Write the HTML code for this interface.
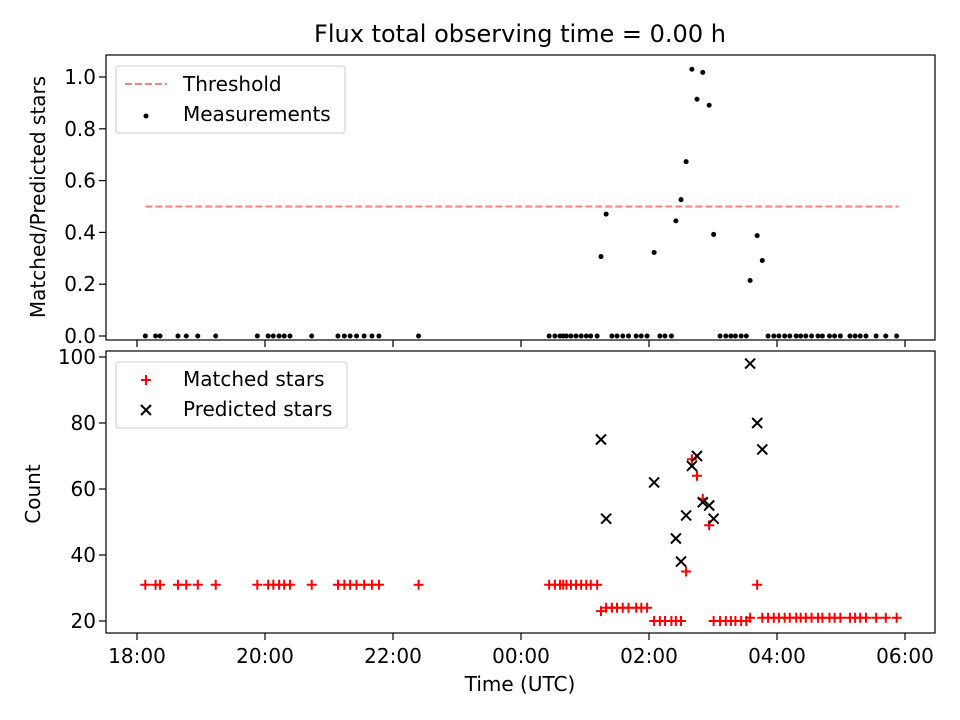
<!DOCTYPE html>
<html><head><meta charset="utf-8"><style>
html,body{margin:0;padding:0;background:#fff;}
svg{display:block;font-family:"DejaVu Sans","Liberation Sans",sans-serif;}
</style></head><body>
<svg id="chart" width="960" height="720" viewBox="0 0 960 720"></svg>
<script>
// hours since 18:00 UTC
const times = [0.13,0.29,0.36,0.64,0.77,0.95,1.23,1.88,2.05,2.13,2.22,2.30,2.39,2.73,3.14,3.24,3.33,3.43,3.55,3.67,3.78,4.40,
6.44,6.53,6.61,6.66,6.71,6.78,6.86,6.94,7.02,7.09,7.19,
7.25,7.33,7.42,7.50,7.59,7.68,7.80,7.88,7.97,
8.08,8.17,8.25,8.35,8.42,8.50,8.58,8.67,8.75,8.84,8.94,9.01,
9.11,9.20,9.28,9.35,9.44,9.52,9.58,9.69,9.77,
9.86,9.95,10.03,10.12,10.20,10.30,10.37,10.45,10.54,10.64,10.71,10.82,10.90,10.99,11.14,11.22,11.30,11.39,11.55,11.70,11.87];
const matched = [31,31,31,31,31,31,31,31,31,31,31,31,31,31,31,31,31,31,31,31,31,31,
31,31,31,31,31,31,31,31,31,31,31,
23,24,24,24,24,24,24,24,24,
20,20,20,20,20,20,35,69,64,57,49,20,
20,20,20,20,20,20,21,31,21,
21,21,21,21,21,21,21,21,21,21,21,21,21,21,21,21,21,21,21,21,21];
const predicted = [0,0,0,0,0,0,0,0,0,0,0,0,0,0,0,0,0,0,0,0,0,0,
0,0,0,0,0,0,0,0,0,0,0,
75,51,0,0,0,0,0,0,0,
62,0,0,0,45,38,52,67,70,56,55,51,
0,0,0,0,0,0,98,80,72,
0,0,0,0,0,0,0,0,0,0,0,0,0,0,0,0,0,0,0,0,0];
const threshold = 0.5;
const xTickLabels = ["18:00","20:00","22:00","00:00","02:00","04:00","06:00"];
const topTicks = [0,0.2,0.4,0.6,0.8,1.0];
const botTicks = [20,40,60,80,100];

const NS="http://www.w3.org/2000/svg";
const svg=document.getElementById('chart');
function mk(tag,attrs,parent){const e=document.createElementNS(NS,tag);for(const k in attrs)e.setAttribute(k,attrs[k]);(parent||svg).appendChild(e);return e;}
const L=106,R=935,T1=55,B1=340,T2=351,B2=633;
const FS='20';
const xS=h=>137+h*64;
const yTop=v=>336-v*259;
const yBot=v=>621-(v-20)*3.3;

let t=mk('text',{x:520,y:42,'text-anchor':'middle','font-size':'24'});t.textContent='Flux total observing time = 0.00 h';



let f1=mk('rect',{x:L,y:T1,width:R-L,height:B1-T1,fill:'none',stroke:'#000','stroke-width':1.2});


let f2=mk('rect',{x:L,y:T2,width:R-L,height:B2-T2,fill:'none',stroke:'#000','stroke-width':1.2});



xTickLabels.forEach((lab,i)=>{
  const x=xS(i*2);
  let a=mk('line',{x1:x,x2:x,y1:B1,y2:B1+7,stroke:'#000','stroke-width':1.2});
  
  
  let b=mk('line',{x1:x,x2:x,y1:B2,y2:B2+7,stroke:'#000','stroke-width':1.2});
  
  
  let tx=mk('text',{x:x,y:663,'text-anchor':'middle','font-size':FS});tx.textContent=lab;
  
  
});
let xl=mk('text',{x:520,y:691,'text-anchor':'middle','font-size':FS});xl.textContent='Time (UTC)';



topTicks.forEach(v=>{
  const y=yTop(v);
  let a=mk('line',{x1:L-7,x2:L,y1:y,y2:y,stroke:'#000','stroke-width':1.2});
  
  
  let tx=mk('text',{x:L-10,y:y+7,'text-anchor':'end','font-size':FS});tx.textContent=v.toFixed(1);
  
  
});
let yl1=mk('text',{x:0,y:0,'text-anchor':'middle','font-size':FS,transform:'translate(45,197) rotate(-90)'});yl1.textContent='Matched/Predicted stars';



botTicks.forEach(v=>{
  const y=yBot(v);
  let a=mk('line',{x1:L-7,x2:L,y1:y,y2:y,stroke:'#000','stroke-width':1.2});
  
  
  let tx=mk('text',{x:L-10,y:y+7,'text-anchor':'end','font-size':FS});tx.textContent=String(v);
  
  
});
let yl2=mk('text',{x:0,y:0,'text-anchor':'middle','font-size':FS,transform:'translate(40,494) rotate(-90)'});yl2.textContent='Count';



let th=mk('line',{x1:xS(times[0]),x2:xS(times[times.length-1])+2,y1:yTop(threshold),y2:yTop(threshold),stroke:'#ff7f7f','stroke-width':2,'stroke-dasharray':'7,3'});



times.forEach((h,i)=>{
  const r=predicted[i]>0?matched[i]/predicted[i]:0;
  let c=mk('circle',{cx:xS(h),cy:yTop(r),r:2.5,fill:'#000'});
  
  
});

times.forEach((h,i)=>{
  const x=xS(h),y=yBot(matched[i]);
  let p=mk('path',{d:`M${x-5},${y}H${x+5}M${x},${y-5}V${y+5}`,stroke:'#f00','stroke-width':2});
  
  
});
times.forEach((h,i)=>{
  if(predicted[i]<=0)return;
  const x=xS(h),y=yBot(predicted[i]);
  let p=mk('path',{d:`M${x-5},${y-5}L${x+5},${y+5}M${x-5},${y+5}L${x+5},${y-5}`,stroke:'#000','stroke-width':2});
  
  
});

let lg1=mk('g',{});


mk('rect',{x:116,y:66,width:229,height:67,rx:3,fill:'#fff','fill-opacity':0.8,stroke:'#ccc'},lg1);
mk('line',{x1:125,x2:167,y1:84,y2:84,stroke:'#ff7f7f','stroke-width':2,'stroke-dasharray':'7,3'},lg1);
let lt1=mk('text',{x:183,y:91,'font-size':FS},lg1);lt1.textContent='Threshold';
mk('circle',{cx:146,cy:116,r:2.5,fill:'#000'},lg1);
let lt2=mk('text',{x:183,y:121,'font-size':FS},lg1);lt2.textContent='Measurements';

let lg2=mk('g',{});


mk('rect',{x:116,y:362,width:231,height:66,rx:3,fill:'#fff','fill-opacity':0.8,stroke:'#ccc'},lg2);
mk('path',{d:'M141,380H151M146,375V385',stroke:'#f00','stroke-width':2},lg2);
let lt3=mk('text',{x:183,y:386,'font-size':FS},lg2);lt3.textContent='Matched stars';
mk('path',{d:'M141,405L151,415M141,415L151,405',stroke:'#000','stroke-width':2},lg2);
let lt4=mk('text',{x:183,y:416,'font-size':FS},lg2);lt4.textContent='Predicted stars';
</script>
</body></html>
